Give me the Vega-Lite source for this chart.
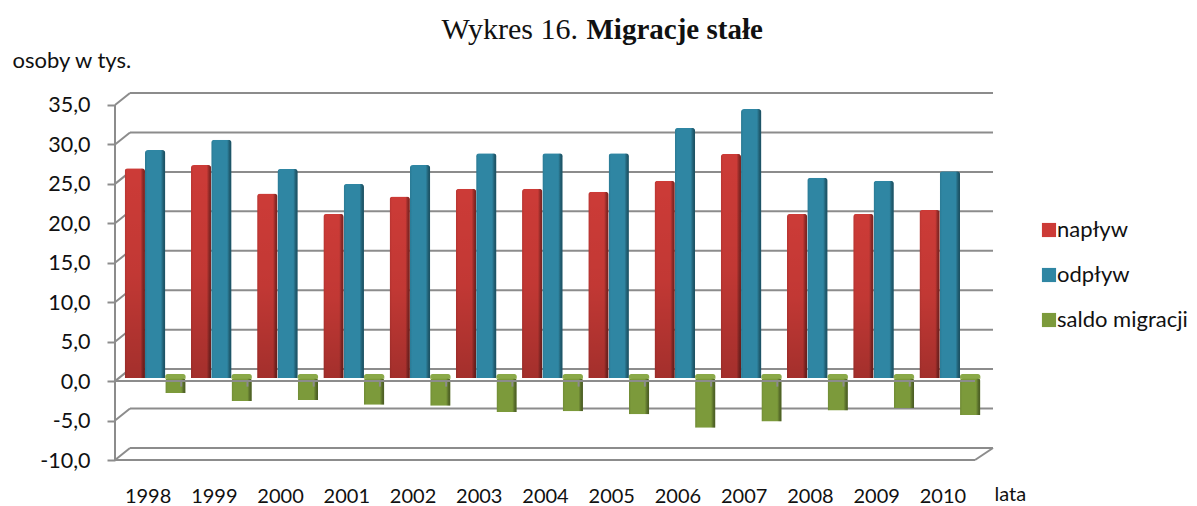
{
"$schema":"https://vega.github.io/schema/vega-lite/v6.json",
"width":878,"height":367,"autosize":"none",
"padding":{"left":115,"top":93,"right":204,"bottom":46},
"background":"white",
"config":{"view":{"stroke":null},"font":"Lato"},
"datasets":{
"walls":[{"tick":-10,"back":-8.48},{"tick":-5,"back":-3.48},{"tick":0,"back":1.52},{"tick":5,"back":6.52},{"tick":10,"back":11.52},{"tick":15,"back":16.52},{"tick":20,"back":21.52},{"tick":25,"back":26.52},{"tick":30,"back":31.52},{"tick":35,"back":36.52}],
"bars":[
{"year":"1998","series":"napływ","value":26.6},{"year":"1999","series":"napływ","value":27.0},{"year":"2000","series":"napływ","value":23.4},{"year":"2001","series":"napływ","value":20.8},{"year":"2002","series":"napływ","value":23.0},{"year":"2003","series":"napływ","value":24.0},{"year":"2004","series":"napływ","value":24.0},{"year":"2005","series":"napływ","value":23.6},{"year":"2006","series":"napływ","value":25.0},{"year":"2007","series":"napływ","value":28.4},{"year":"2008","series":"napływ","value":20.8},{"year":"2009","series":"napływ","value":20.8},{"year":"2010","series":"napływ","value":21.3},
{"year":"1998","series":"odpływ","value":28.9},{"year":"1999","series":"odpływ","value":30.2},{"year":"2000","series":"odpływ","value":26.5},{"year":"2001","series":"odpływ","value":24.6},{"year":"2002","series":"odpływ","value":27.0},{"year":"2003","series":"odpływ","value":28.5},{"year":"2004","series":"odpływ","value":28.5},{"year":"2005","series":"odpływ","value":28.5},{"year":"2006","series":"odpływ","value":31.7},{"year":"2007","series":"odpływ","value":34.1},{"year":"2008","series":"odpływ","value":25.4},{"year":"2009","series":"odpływ","value":25.0},{"year":"2010","series":"odpływ","value":26.2},
{"year":"1998","series":"saldo migracji","value":-1.9},{"year":"1999","series":"saldo migracji","value":-2.9},{"year":"2000","series":"saldo migracji","value":-2.8},{"year":"2001","series":"saldo migracji","value":-3.4},{"year":"2002","series":"saldo migracji","value":-3.5},{"year":"2003","series":"saldo migracji","value":-4.3},{"year":"2004","series":"saldo migracji","value":-4.2},{"year":"2005","series":"saldo migracji","value":-4.6},{"year":"2006","series":"saldo migracji","value":-6.3},{"year":"2007","series":"saldo migracji","value":-5.5},{"year":"2008","series":"saldo migracji","value":-4.1},{"year":"2009","series":"saldo migracji","value":-3.8},{"year":"2010","series":"saldo migracji","value":-4.7}
]},
"resolve":{"scale":{"x":"independent","y":"independent","xOffset":"independent"},"axis":{"x":"independent","y":"independent"}},
"layer":[
{"data":{"name":"walls"},"mark":{"type":"rule","color":"#8c8c8c","strokeWidth":2},
 "encoding":{"x":{"datum":15,"type":"quantitative","scale":{"domain":[0,878],"range":[0,878]},
   "axis":{"orient":"top","labels":false,"ticks":false,"domain":false,"grid":false,"title":"Wykres 16.","titleX":326,"titleY":-55,"titleAlign":"left","titleBaseline":"alphabetic","titleFont":"Liberation Serif","titleFontSize":30,"titleFontWeight":"normal","titleColor":"#111111"}},"x2":{"datum":878},
 "y":{"field":"back","type":"quantitative","scale":{"domain":[-10,36.52],"nice":false,"zero":false},"axis":null}}},
{"data":{"name":"walls"},"mark":{"type":"rule","color":"#8c8c8c","strokeWidth":2},
 "encoding":{"x":{"datum":0,"type":"quantitative","scale":{"domain":[0,878],"range":[0,878]},"axis":null},"x2":{"datum":15},
 "y":{"field":"tick","type":"quantitative","scale":{"domain":[-10,36.52],"nice":false,"zero":false},
  "axis":{"orient":"left","values":[-10,-5,0,5,10,15,20,25,30,35],"grid":false,"domain":false,"tickSize":8,"tickColor":"#8c8c8c","tickWidth":2,"labelPadding":17,"labelFont":"Lato","labelFontSize":21.5,"labelColor":"#111111","labelOffset":1,
  "labelExpr":"(datum.value<0?'-':'')+replace(format(abs(datum.value),'.1f'),'.',',')",
  "title":"osoby w tys.","titleAngle":0,"titleAlign":"left","titleBaseline":"middle","titleX":-103,"titleY":-33,"titleFont":"Lato","titleFontSize":22,"titleFontWeight":"normal","titleColor":"#111111"}},
 "y2":{"field":"back"}}},
{"data":{"name":"bars"},"mark":{"type":"bar","cornerRadiusEnd":3},
 "encoding":{"x":{"field":"year","type":"ordinal","scale":{"range":[7,868],"paddingInner":0.08,"paddingOuter":0.04},
   "axis":{"orient":"top","labels":false,"ticks":false,"domain":false,"grid":false,"title":"Migracje stałe","titleX":471,"titleY":-55,"titleAlign":"left","titleBaseline":"alphabetic","titleFont":"Liberation Serif","titleFontSize":29,"titleFontWeight":"bold","titleColor":"#111111"}},
  "xOffset":{"field":"series","type":"nominal","sort":["napływ","odpływ","saldo migracji"]},
  "y":{"field":"value","type":"quantitative","scale":{"domain":[-10.39,36.13],"nice":false,"zero":false},"axis":null},
  "color":{"field":"series","type":"nominal","sort":["napływ","odpływ","saldo migracji"],"scale":{"domain":["napływ","odpływ","saldo migracji"],"range":["#cc3b37","#2f86a3","#7c9a3b"]},
   "legend":{"orient":"none","legendX":923,"legendY":126,"title":null,"symbolType":"square","symbolSize":200,"symbolStrokeWidth":0,"labelFont":"Lato","labelFontSize":22,"labelColor":"#111111","labelOffset":-3,"rowPadding":23,"labelLimit":200}}}},
{"data":{"name":"bars"},"transform":[{"filter":"datum.series=='napływ'"}],"mark":{"type":"bar","cornerRadiusEnd":3,"fill":{"x1":0,"y1":0,"x2":0,"y2":1,"gradient":"linear","stops":[{"offset":0,"color":"rgba(0,0,0,0)"},{"offset":0.5,"color":"rgba(0,0,0,0.05)"},{"offset":1,"color":"rgba(0,0,0,0.2)"}]}},
 "encoding":{"x":{"field":"year","type":"ordinal","scale":{"range":[7,868],"paddingInner":0.08,"paddingOuter":0.04},"axis":null},
  "xOffset":{"field":"series","type":"nominal","scale":{"domain":["napływ","odpływ","saldo migracji"]}},
  "y":{"field":"value","type":"quantitative","scale":{"domain":[-10.39,36.13],"nice":false,"zero":false},"axis":null}}},
{"data":{"name":"bars"},"mark":{"type":"bar","cornerRadiusEnd":3,"fill":{"x1":0,"y1":0,"x2":1,"y2":0,"gradient":"linear","stops":[{"offset":0,"color":"rgba(0,0,0,0.10)"},{"offset":0.12,"color":"rgba(0,0,0,0)"},{"offset":0.78,"color":"rgba(0,0,0,0)"},{"offset":0.9,"color":"rgba(0,0,0,0.30)"},{"offset":1,"color":"rgba(0,0,0,0.42)"}]}},
 "encoding":{"x":{"field":"year","type":"ordinal","scale":{"range":[7,868],"paddingInner":0.08,"paddingOuter":0.04},"axis":null},
  "xOffset":{"field":"series","type":"nominal","scale":{"domain":["napływ","odpływ","saldo migracji"]}},
  "y":{"field":"value","type":"quantitative","scale":{"domain":[-10.39,36.13],"nice":false,"zero":false},"axis":null}}},
{"data":{"name":"bars"},"transform":[{"filter":"datum.series=='saldo migracji'"}],"mark":{"type":"bar","color":"#8aa948","cornerRadiusTopLeft":3,"cornerRadiusTopRight":3},
 "encoding":{"x":{"field":"year","type":"ordinal","scale":{"range":[7,868],"paddingInner":0.08,"paddingOuter":0.04},"axis":null},
  "xOffset":{"field":"series","type":"nominal","scale":{"domain":["napływ","odpływ","saldo migracji"]}},
  "y":{"datum":0.5,"type":"quantitative","scale":{"domain":[-10.39,36.13],"nice":false,"zero":false},"axis":null},"y2":{"datum":-0.1}}},
{"data":{"name":"walls"},"transform":[{"filter":"datum.tick==0||datum.tick==-10"}],"mark":{"type":"rule","color":"#8c8c8c","strokeWidth":2},
 "encoding":{"x":{"datum":0,"type":"quantitative","scale":{"domain":[0,878],"range":[0,878]},"axis":null},"x2":{"datum":860},
 "y":{"field":"tick","type":"quantitative","scale":{"domain":[-10,36.52],"nice":false,"zero":false},"axis":null}}},
{"data":{"name":"walls"},"transform":[{"filter":"datum.tick==-10"}],"mark":{"type":"rule","color":"#8c8c8c","strokeWidth":2},
 "encoding":{"x":{"datum":860,"type":"quantitative","scale":{"domain":[0,878],"range":[0,878]},"axis":null},"x2":{"datum":878},
 "y":{"field":"tick","type":"quantitative","scale":{"domain":[-10,36.52],"nice":false,"zero":false},"axis":null},"y2":{"field":"back"}}},
{"data":{"values":[{"tick":35,"low":-10}]},"mark":{"type":"rule","color":"#8c8c8c","strokeWidth":2},
 "encoding":{"x":{"datum":0,"type":"quantitative","scale":{"domain":[0,878],"range":[0,878]},"axis":null},
 "y":{"field":"tick","type":"quantitative","scale":{"domain":[-10,36.52],"nice":false,"zero":false},"axis":null},"y2":{"field":"low"}}},
{"data":{"name":"bars"},"transform":[{"filter":"datum.series=='napływ'"}],"mark":{"type":"rule","color":"#8c8c8c","strokeWidth":2},
 "encoding":{"x":{"field":"year","type":"ordinal","bandPosition":0,"scale":{"type":"band","range":[0,861],"paddingInner":0,"paddingOuter":0},
  "axis":{"orient":"bottom","grid":false,"ticks":false,"domain":false,"labelAngle":0,"labelPadding":26,"labelFont":"Lato","labelFontSize":20,"labelColor":"#111111","title":"lata","titleX":879,"titleY":34,"titleAlign":"left","titleBaseline":"middle","titleFont":"Lato","titleFontSize":20,"titleFontWeight":"normal","titleColor":"#111111"}},
 "y":{"datum":0,"type":"quantitative","scale":{"domain":[-10,36.52],"nice":false,"zero":false},"axis":null},"y2":{"datum":-0.7}}}
]
}
